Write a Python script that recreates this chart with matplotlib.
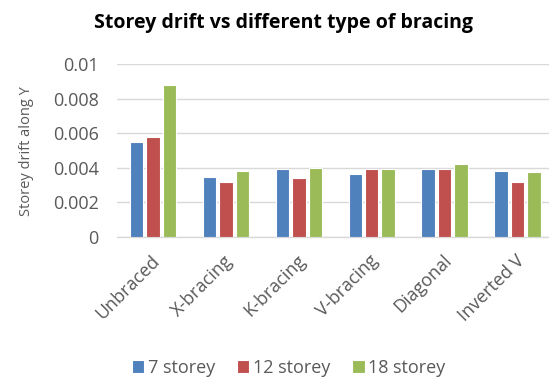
import matplotlib
matplotlib.use("Agg")
import matplotlib.pyplot as plt
import matplotlib.transforms as mtransforms
import numpy as np

categories = ["Unbraced", "X-bracing", "K-bracing", "V-bracing", "Diagonal", "Inverted V"]
series_names = ["7 storey", "12 storey", "18 storey"]
s7 = [0.00548, 0.00349, 0.00392, 0.00367, 0.00392, 0.00382]
s12 = [0.00581, 0.00317, 0.00342, 0.00392, 0.00392, 0.00317]
s18 = [0.00880, 0.00382, 0.00400, 0.00392, 0.00425, 0.00375]
yticks = [0, 0.002, 0.004, 0.006, 0.008, 0.01]
ytick_labels = ["0", "0.002", "0.004", "0.006", "0.008", "0.01"]

colors = ["#4f81bd", "#c0504d", "#9bbb59"]
gray = "#595959"
font = ["Open Sans", "DejaVu Sans"]
plt.rcParams["font.family"] = font

fig = plt.figure(figsize=(5.49, 3.81), dpi=100)
ax = fig.add_axes([116.7 / 549, 1 - 237 / 381, 1 - 116.7 / 549, (237 - 64.3) / 381])

x = np.arange(len(categories))
offsets = [-0.226, 0.0, 0.226]
bars = []
for data, off, c, name in zip([s7, s12, s18], offsets, colors, series_names):
    b = ax.bar(x + off, data, width=0.185, color=c, edgecolor="white", linewidth=0.8, label=name, zorder=3)
    bars.append(b)

ax.set_ylim(0, 0.01)
ax.set_xlim(-0.5, -0.5 + (549 - 116.7) / 72.86)
ax.set_yticks(yticks)
ax.set_yticklabels(ytick_labels, color=gray, fontsize=13)
ax.set_xticks(x)
ax.set_xticklabels(categories, rotation=45, ha="right", va="center", rotation_mode="anchor",
                   color=gray, fontsize=13)
ax.tick_params(axis="both", length=0)
ax.tick_params(axis="y", pad=13)
ax.tick_params(axis="x", pad=15)
shift = mtransforms.ScaledTranslation(4 / 100, 0, fig.dpi_scale_trans)
for lab in ax.get_xticklabels():
    lab.set_transform(lab.get_transform() + shift)
ax.grid(axis="y", color="#d9d9d9", linewidth=1.0, zorder=0)
for s in ["top", "right", "left"]:
    ax.spines[s].set_visible(False)
ax.spines["bottom"].set_color("#d9d9d9")
ax.spines["bottom"].set_linewidth(1.0)

fig.text(27 / 549, 1 - 151 / 381, "Storey drift along Y", rotation=90, ha="center", va="center",
         color=gray, fontsize=10.5)
fig.text(283.5 / 549, 1 - 23 / 381, "Storey drift vs different type of bracing", ha="center", va="center",
         fontsize=14, fontweight="bold", color="black")

fig.legend(handles=bars, labels=series_names, loc="center", bbox_to_anchor=(288.5 / 549, 1 - 368 / 381),
           ncol=3, frameon=False, fontsize=13, handlelength=0.7, handleheight=0.7,
           handletextpad=0.2, columnspacing=1.2, labelcolor=gray)

fig.savefig("out.png", dpi=100)
